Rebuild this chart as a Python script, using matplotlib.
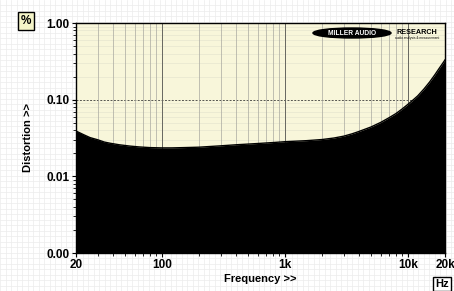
import matplotlib
matplotlib.use("Agg")
import matplotlib.pyplot as plt
from matplotlib.patches import Ellipse
from matplotlib.ticker import FixedLocator, LogLocator, NullFormatter
import numpy as np

freqs = [20, 23, 26, 30, 34, 38, 45, 55, 65, 80, 100, 120, 150, 200, 300, 400, 600,
         800, 1000, 1500, 2000, 2500, 3000, 3500, 4000, 5000, 6000, 7000, 8000,
         9000, 10000, 11000, 12000, 13500, 15000, 16500, 18000, 19000, 20000]
dist = [0.039, 0.035, 0.032, 0.030, 0.028, 0.027, 0.0258, 0.0248, 0.0242, 0.0237,
        0.0235, 0.0235, 0.0237, 0.0240, 0.0250, 0.0258, 0.0268, 0.0276, 0.0283,
        0.0292, 0.0302, 0.0316, 0.0334, 0.0358, 0.0385, 0.0440, 0.0505, 0.0580,
        0.0660, 0.0760, 0.0870, 0.0990, 0.112, 0.138, 0.170, 0.210, 0.258, 0.292,
        0.330]

x_ticks = [20, 100, 1000, 10000, 20000]
x_labels = ["20", "100", "1k", "10k", "20k"]
y_ticks = [0.001, 0.01, 0.1, 1.0]
y_labels = ["0.00", "0.01", "0.10", "1.00"]

plt.rcParams['font.family'] = ['Liberation Sans', 'DejaVu Sans']

fig = plt.figure(figsize=(4.54, 2.91), dpi=100)
fig.patch.set_facecolor("white")

# graph paper background
bg = fig.add_axes([0, 0, 1, 1], zorder=-10)
bg.set_xlim(0, 454)
bg.set_ylim(0, 291)
for v in np.arange(0, 454, 5.5):
    bg.axvline(v, color="#ececec", lw=0.5)
for v in np.arange(0, 291, 5.5):
    bg.axhline(v, color="#ececec", lw=0.5)
bg.axis("off")

ax = fig.add_axes([76/454, 38/291, 369/454, 230/291])
ax.set_facecolor("#f8f6da")
ax.set_xscale("log")
ax.set_yscale("log")
ax.set_xlim(20, 20000)
ax.set_ylim(0.001, 1.0)

ax.fill_between(freqs, dist, 0.0001, color="black", zorder=3, lw=0)
ax.plot(freqs, dist, color="black", lw=1, zorder=3)

ax.xaxis.set_major_locator(FixedLocator(x_ticks))
ax.set_xticklabels(x_labels, fontsize=8.5, fontweight="bold")
ax.xaxis.set_minor_locator(LogLocator(base=10, subs=np.arange(2, 10)))
ax.xaxis.set_minor_formatter(NullFormatter())
ax.yaxis.set_major_locator(FixedLocator(y_ticks))
ax.set_yticklabels(y_labels, fontsize=8.5, fontweight="bold")
ax.yaxis.set_minor_locator(LogLocator(base=10, subs=np.arange(2, 10)))
ax.yaxis.set_minor_formatter(NullFormatter())
ax.tick_params(which="major", length=3, width=0.8, pad=1.5)
ax.tick_params(which="minor", length=2, width=0.6)

# grid
ax.grid(True, which="minor", axis="x", color="#a8a8a0", lw=0.5, zorder=1)
ax.grid(True, which="major", axis="x", color="#666660", lw=0.7, zorder=1)
for v in [0.01, 0.1]:
    ax.axhline(v, color="#555550", lw=0.7, ls=(0, (2, 1.5)), zorder=1)
for v in np.concatenate([np.arange(2, 10) * 0.001, np.arange(2, 10) * 0.01, np.arange(2, 10) * 0.1]):
    ax.axhline(v, color="#e2e2cc", lw=0.4, zorder=0.5)

for s in ax.spines.values():
    s.set_linewidth(1.0)

ax.set_xlabel("Frequency >>", fontsize=8, fontweight="bold", labelpad=2)
ax.set_ylabel("Distortion >>", fontsize=8, fontweight="bold", labelpad=10)

# unit boxes
fig.text(26/454, 1 - 21/291, "%", fontsize=8.5, fontweight="bold", ha="center", va="center",
         bbox=dict(boxstyle="square,pad=0.25", fc="#f4f4c8", ec="black", lw=1))
fig.text(442/454, 1 - 284/291, "Hz", fontsize=8, fontweight="bold", ha="center", va="center",
         bbox=dict(boxstyle="square,pad=0.2", fc="white", ec="black", lw=1))

# logo
lg = fig.add_axes([0, 0, 1, 1], zorder=10)
lg.set_xlim(0, 454)
lg.set_ylim(291, 0)
lg.axis("off")
lg.add_patch(Ellipse((352, 33), 78, 10, color="black"))
lg.text(352, 33.5, "MILLER AUDIO", color="white", fontsize=4.8, fontweight="bold",
        ha="center", va="center")
lg.text(417, 32, "RESEARCH", color="black", fontsize=5.2, fontweight="bold",
        ha="center", va="center")
lg.text(417, 38.5, "audio analysis & measurement", color="black", fontsize=2.3,
        ha="center", va="center")

fig.savefig("out.png", dpi=100)
